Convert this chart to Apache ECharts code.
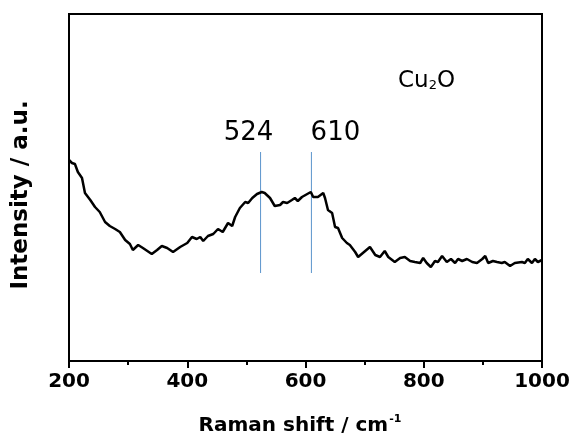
<!DOCTYPE html>
<html>
<head>
<meta charset="utf-8">
<script src="https://cdn.jsdelivr.net/npm/echarts@6/dist/echarts.min.js"></script>
<style>
  html, body { margin: 0; padding: 0; background: #fff; }
  #chart { width: 578px; height: 444px; }
</style>
</head>
<body>
<div id="chart"></div>
<script>
// Raman spectrum of Cu2O (arbitrary intensity units)
const ramanShift = [200, 205, 210, 215, 222, 227, 236, 244, 252, 261, 269, 278, 286, 295, 303, 308, 317, 325, 340, 349,
  357, 366, 376, 388, 400, 408, 416, 422, 427, 435, 444, 452, 460, 469, 476, 481, 489, 498, 503, 510,
  518, 526, 531, 540, 548, 557, 562, 569, 577, 582, 587, 594, 603, 609, 613, 621, 630, 633, 638, 645,
  650, 655, 662, 670, 675, 684, 689, 697, 709, 718, 726, 734, 740, 751, 760, 768, 777, 785, 794, 799,
  805, 812, 819, 824, 831, 839, 846, 853, 858, 865, 873, 882, 890, 899, 904, 909, 917, 924, 932, 937,
  946, 954, 966, 971, 976, 983, 988, 993, 1000];
const intensity = [201, 198, 197, 189, 183, 168, 161, 154, 149, 139, 135, 132, 129, 121, 117, 111, 116, 113, 107, 111,
  115, 113, 109, 114, 118, 124, 122, 124, 120, 125, 127, 132, 129, 138, 135, 144, 153, 159, 158, 163,
  167, 169, 168, 163, 155, 156, 159, 158, 161, 163, 160, 164, 167, 169, 164, 164, 168, 163, 151, 148,
  134, 133, 123, 118, 116, 109, 104, 108, 114, 106, 104, 110, 104, 99, 103, 104, 100, 99, 98, 103,
  98, 94, 100, 99, 105, 99, 102, 98, 102, 100, 102, 99, 98, 102, 105, 98, 100, 99, 98, 99,
  95, 98, 99, 98, 102, 98, 102, 99, 101];

// Peak positions marked on the spectrum
const peaks = [524, 610];
const peakLineRange = [88, 209];
const xTicks = { min: 200, max: 1000, step: 200 };

const chart = echarts.init(document.getElementById('chart'), null, { renderer: 'canvas' });

const FONT = 'DejaVu Sans';
const PEAK_COLOR = '#5b95cc';

// One short vertical guide per peak
const peakSeries = peaks.map(p => ({
  type: 'line',
  data: [[p, peakLineRange[0]], [p, peakLineRange[1]]],
  showSymbol: false,
  silent: true,
  z: 1,
  lineStyle: { color: PEAK_COLOR, width: 1 }
}));

const option = {
  animation: false,
  backgroundColor: '#fff',
  grid: {
    left: 69, right: 36, top: 14, bottom: 83,
    show: true, borderColor: '#000', borderWidth: 2, backgroundColor: 'transparent'
  },
  xAxis: {
    type: 'value',
    min: xTicks.min, max: xTicks.max, interval: xTicks.step,
    axisLine: { show: true, lineStyle: { color: '#000', width: 2 } },
    axisTick: { show: true, inside: false, length: 7, lineStyle: { color: '#000', width: 2 } },
    minorTick: { show: true, splitNumber: 2, length: 4, lineStyle: { color: '#000', width: 2 } },
    splitLine: { show: false },
    axisLabel: {
      color: '#000', fontFamily: FONT, fontWeight: 'bold', fontSize: 20, margin: 11,
      formatter: v => String(v)
    }
  },
  yAxis: {
    type: 'value',
    min: 0, max: 347,
    axisLine: { show: true, lineStyle: { color: '#000', width: 2 } },
    axisTick: { show: false },
    axisLabel: { show: false },
    splitLine: { show: false }
  },
  series: [{
    type: 'line',
    data: ramanShift.map((x, i) => [x, intensity[i]]),
    showSymbol: false,
    z: 2,
    lineStyle: { color: '#000', width: 2.5 }
  }].concat(peakSeries)
};
chart.setOption(option);

// Text placed relative to the drawn axes
const [peakA, peakB] = peaks.map(p => chart.convertToPixel({ gridIndex: 0 }, [p, peakLineRange[1]]));
chart.setOption({
  graphic: [
    {
      type: 'text', x: peakA[0] - 12, y: peakA[1] - 19,
      style: { text: String(peaks[0]), font: '26px ' + FONT, fill: '#000', align: 'center', verticalAlign: 'middle' }
    },
    {
      type: 'text', x: peakB[0] + 24, y: peakB[1] - 19,
      style: { text: String(peaks[1]), font: '26px ' + FONT, fill: '#000', align: 'center', verticalAlign: 'middle' }
    },
    {
      type: 'text', x: 398, y: 81,
      style: {
        text: '{n|Cu}{s|2}{n|O}',
        verticalAlign: 'middle',
        rich: {
          n: { fontFamily: FONT, fontSize: 23, color: '#000' },
          s: { fontFamily: FONT, fontSize: 13, color: '#000', padding: [10, 0, 0, 0] }
        }
      }
    },
    {
      type: 'text', x: 300, y: 426,
      style: {
        text: '{t|Raman shift / cm}{p|-1}',
        align: 'center', verticalAlign: 'middle',
        rich: {
          t: { fontFamily: FONT, fontWeight: 'bold', fontSize: 20, color: '#000' },
          p: { fontFamily: FONT, fontWeight: 'bold', fontSize: 11, color: '#000', padding: [0, 0, 14, 1] }
        }
      }
    },
    {
      type: 'text', x: 21, y: 195, rotation: Math.PI / 2,
      style: {
        text: 'Intensity / a.u.', font: 'bold 23px ' + FONT, fill: '#000',
        align: 'center', verticalAlign: 'middle'
      }
    }
  ]
});
</script>
</body>
</html>
